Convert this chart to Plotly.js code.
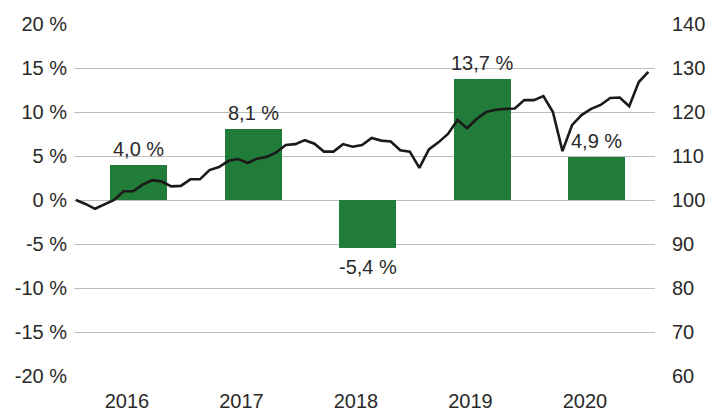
<!DOCTYPE html>
<html>
<head>
<meta charset="utf-8">
<script src="https://cdn.plot.ly/plotly-3.0.1.min.js"></script>
<style>
  html, body { margin: 0; padding: 0; background: #fff; }
  #chart { width: 711px; height: 412px; }
</style>
</head>
<body>
<div id="chart"></div>
<script>
// Annual returns (bars, left axis, %)
const years = ['2016', '2017', '2018', '2019', '2020'];
const annualReturns = [4.0, 8.1, -5.4, 13.7, 4.9];

// Monthly index level (line, right axis), Dec 2015 = 100 ... Dec 2020
const indexLevels = [
  100.0, 99.1, 98.0, 99.0, 100.0, 102.0, 102.0, 103.5, 104.5, 104.2, 103.1, 103.2,
  104.7, 104.7, 106.8, 107.5, 108.9, 109.3, 108.4, 109.4, 109.8, 110.8, 112.5, 112.7,
  113.6, 112.8, 111.0, 111.0, 112.7, 112.1, 112.5, 114.1, 113.5, 113.3, 111.3, 111.0,
  107.3, 111.5, 113.1, 115.0, 118.2, 116.3, 118.4, 120.0, 120.5, 120.7, 120.8, 122.7,
  122.7, 123.6, 120.0, 111.1, 117.0, 119.3, 120.7, 121.6, 123.2, 123.3, 121.3, 126.8,
  129.1
];

// Axis tick values
const leftTicks = [-20, -15, -10, -5, 0, 5, 10, 15, 20];
const rightTicks = [60, 70, 80, 90, 100, 110, 120, 130, 140];

const fmt = v => v.toFixed(1).replace('.', ',') + ' %';

const monthX = indexLevels.map((_, i) => i);
const barX = years.map((_, k) => 6.6 + 12 * k);
const labelX = years.map((_, k) => 5.35 + 12 * k);

const font = { family: 'Liberation Sans, Arial, sans-serif', size: 20, color: '#2a2a2a' };

const traces = [
  {
    type: 'bar',
    x: barX,
    y: annualReturns,
    width: 6,
    marker: { color: '#217b39', line: { width: 0 } },
    yaxis: 'y',
    hoverinfo: 'skip'
  },
  {
    type: 'scatter',
    mode: 'lines',
    x: monthX,
    y: indexLevels,
    line: { color: '#1a1a1a', width: 2.6 },
    yaxis: 'y2',
    hoverinfo: 'skip'
  }
];

const annotations = annualReturns.map((v, k) => ({
  x: barX[k],
  y: v,
  xref: 'x',
  yref: 'y',
  text: fmt(v),
  showarrow: false,
  xanchor: 'center',
  yanchor: v >= 0 ? 'bottom' : 'top',
  yshift: v >= 0 ? 3 : -6,
  font: font
}));

const layout = {
  width: 711,
  height: 412,
  margin: { l: 74, r: 56, t: 24, b: 36 },
  paper_bgcolor: '#fff',
  plot_bgcolor: '#fff',
  showlegend: false,
  font: font,
  annotations: annotations,
  xaxis: {
    range: [-0.2, 60.7],
    tickvals: labelX,
    ticktext: years,
    showgrid: false,
    zeroline: false,
    showline: false,
    ticks: '',
    ticklabelstandoff: 11,
    tickfont: font
  },
  yaxis: {
    range: [-20, 20],
    tickvals: leftTicks,
    ticktext: leftTicks.map(v => v + ' %'),
    showgrid: true,
    gridcolor: '#bdbdbd',
    gridwidth: 1,
    zeroline: false,
    showline: false,
    ticks: '',
    ticklabelstandoff: 6,
    tickfont: font
  },
  yaxis2: {
    range: [60, 140],
    tickvals: rightTicks,
    ticktext: rightTicks.map(String),
    overlaying: 'y',
    side: 'right',
    showgrid: false,
    zeroline: false,
    showline: false,
    ticks: '',
    ticklabelstandoff: 16,
    tickfont: font
  },
  bargap: 0
};

Plotly.newPlot('chart', traces, layout, { staticPlot: true, displayModeBar: false });
</script>
</body>
</html>
